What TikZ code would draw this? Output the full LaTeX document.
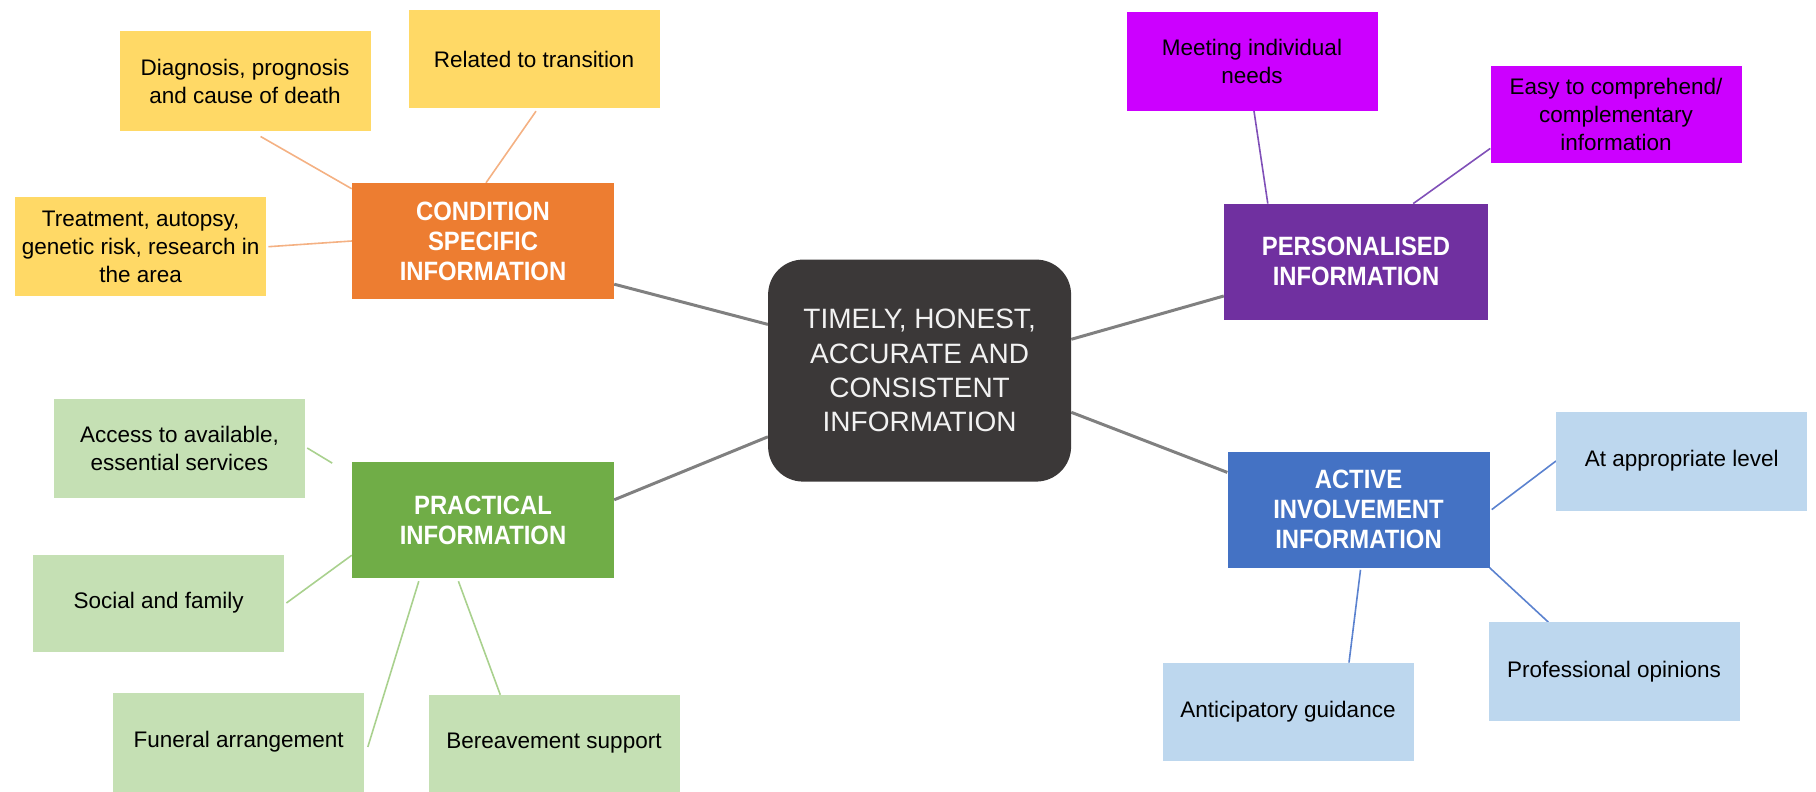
\documentclass[tikz,border=0pt]{standalone}
\usepackage{fontspec}
\setmainfont{Liberation Sans}
\newfontfamily\hubfont[FakeStretch=0.9]{Liberation Sans}
\usetikzlibrary{calc,backgrounds}
\definecolor{cyellow}{HTML}{FFD966}
\definecolor{corange}{HTML}{ED7D31}
\definecolor{corangeln}{HTML}{F4B183}
\definecolor{clgreen}{HTML}{C5E0B4}
\definecolor{cgreen}{HTML}{70AD47}
\definecolor{cgreenln}{HTML}{A9D18E}
\definecolor{cmagenta}{HTML}{CC00FF}
\definecolor{cpurple}{HTML}{7030A0}
\definecolor{cpurpleln}{HTML}{8050B8}
\definecolor{clblue}{HTML}{BDD7EE}
\definecolor{cblue}{HTML}{4472C4}
\definecolor{cblueln}{HTML}{5B82CF}
\definecolor{ccenter}{HTML}{3B3838}
\definecolor{cgrayln}{HTML}{808080}
\begin{document}
\begin{tikzpicture}[x=1pt,y=-1pt,
  subbox/.style={minimum width=251pt,minimum height=99pt,inner sep=0pt,align=center,
    font=\fontsize{22.5}{28}\selectfont,text=black},
  mainbox/.style={minimum width=262pt,minimum height=116pt,inner sep=0pt,align=center,
    font=\hubfont\fontsize{26.5}{30}\selectfont\bfseries,text=white},
  centerbox/.style={minimum width=303pt,minimum height=222pt,inner sep=0pt,align=center,
    rounded corners=35pt,fill=ccenter,text=white!95!black,font=\fontsize{28}{34.2}\selectfont},
  hubline/.style={draw=cgrayln,line width=3pt},
  subline/.style={line width=1.6pt}]
\useasboundingbox (0,0) rectangle (1816,792);

% center
\node[centerbox] (ctr) at (919.6,370.6) {TIMELY, HONEST,\\ACCURATE AND\\CONSISTENT\\INFORMATION};

% condition specific
\node[mainbox,fill=corange] (cond) at (483,241) {CONDITION\\SPECIFIC\\INFORMATION};
\node[subbox,fill=cyellow] (diag) at (245,81) {Diagnosis, prognosis\\and cause of death};
\node[subbox,fill=cyellow,minimum height=97pt] (rel) at (534,59) {Related to transition};
\node[subbox,fill=cyellow] (treat) at (140.7,246.7) {Treatment, autopsy,\\genetic risk, research in\\the area};

% practical
\node[mainbox,fill=cgreen] (pract) at (483,520) {PRACTICAL\\INFORMATION};
\node[subbox,fill=clgreen] (access) at (179.5,448) {Access to available,\\essential services};
\node[subbox,fill=clgreen,minimum height=97pt] (social) at (158.7,603) {Social and family};
\node[subbox,fill=clgreen] (funeral) at (238.6,742) {Funeral arrangement};
\node[subbox,fill=clgreen,minimum height=97pt] (bereav) at (554,743.5) {Bereavement support};

% personalised
\node[mainbox,fill=cpurple,minimum width=264pt] (pers) at (1356,261.8) {PERSONALISED\\INFORMATION};
\node[subbox,fill=cmagenta] (meet) at (1252,61.4) {Meeting individual\\needs};
\node[subbox,fill=cmagenta,minimum height=97pt] (easy) at (1616,114.7) {Easy to comprehend/\\complementary\\information};

% active involvement
\node[mainbox,fill=cblue] (active) at (1358.5,509.6) {ACTIVE\\INVOLVEMENT\\INFORMATION};
\node[subbox,fill=clblue] (atapp) at (1681.7,461) {At appropriate level};
\node[subbox,fill=clblue] (prof) at (1614,671.8) {Professional opinions};
\node[subbox,fill=clblue,minimum height=98pt] (antic) at (1288,711.8) {Anticipatory guidance};

\coordinate (accend) at ([xshift=-19.6pt,yshift=-1.3pt]pract.north west);

\begin{scope}[on background layer]
  % hub connectors
  \draw[hubline] ([yshift=15pt]cond.south east) -- ([yshift=-65pt]ctr.north west);
  \draw[hubline] ([yshift=-38pt]pract.north east) -- ([yshift=45pt]ctr.south west);
  \draw[hubline] ([yshift=31.3pt]ctr.east) -- ([yshift=24pt]pers.south west);
  \draw[hubline] ([yshift=-41.7pt]ctr.east) -- ([yshift=-21pt]active.north west);
  % condition
  \draw[subline,corangeln] ([xshift=15.6pt,yshift=-5.8pt]diag.south) -- ([yshift=-6pt]cond.north west);
  \draw[subline,corangeln] ([xshift=2pt,yshift=-3.5pt]rel.south) -- ([xshift=3pt]cond.north);
  \draw[subline,corangeln] ([xshift=2pt]treat.east) -- (cond.west);
  % practical
  \draw[subline,cgreenln] ([xshift=2pt]access.east) -- (accend);
  \draw[subline,cgreenln] ([xshift=2pt]social.east) -- ([yshift=23pt]pract.south west);
  \draw[subline,cgreenln] ([xshift=67pt,yshift=-3pt]pract.south west) -- ([xshift=3.5pt,yshift=-5pt]funeral.east);
  \draw[subline,cgreenln] ([xshift=106.6pt,yshift=-3pt]pract.south west) -- ([xshift=72pt]bereav.north west);
  % personalised
  \draw[subline,cpurpleln] ([xshift=2pt]meet.south) -- ([xshift=44pt]pers.north west);
  \draw[subline,cpurpleln] ([yshift=15pt]easy.south west) -- ([xshift=-75pt]pers.north east);
  % active
  \draw[subline,cblueln] ([xshift=2pt]active.east) -- (atapp.west);
  \draw[subline,cblueln] (active.south east) -- ([xshift=60pt]prof.north west);
  \draw[subline,cblueln] ([xshift=2pt,yshift=-2pt]active.south) -- ([xshift=61pt]antic.north);
\end{scope}
\end{tikzpicture}
\end{document}
